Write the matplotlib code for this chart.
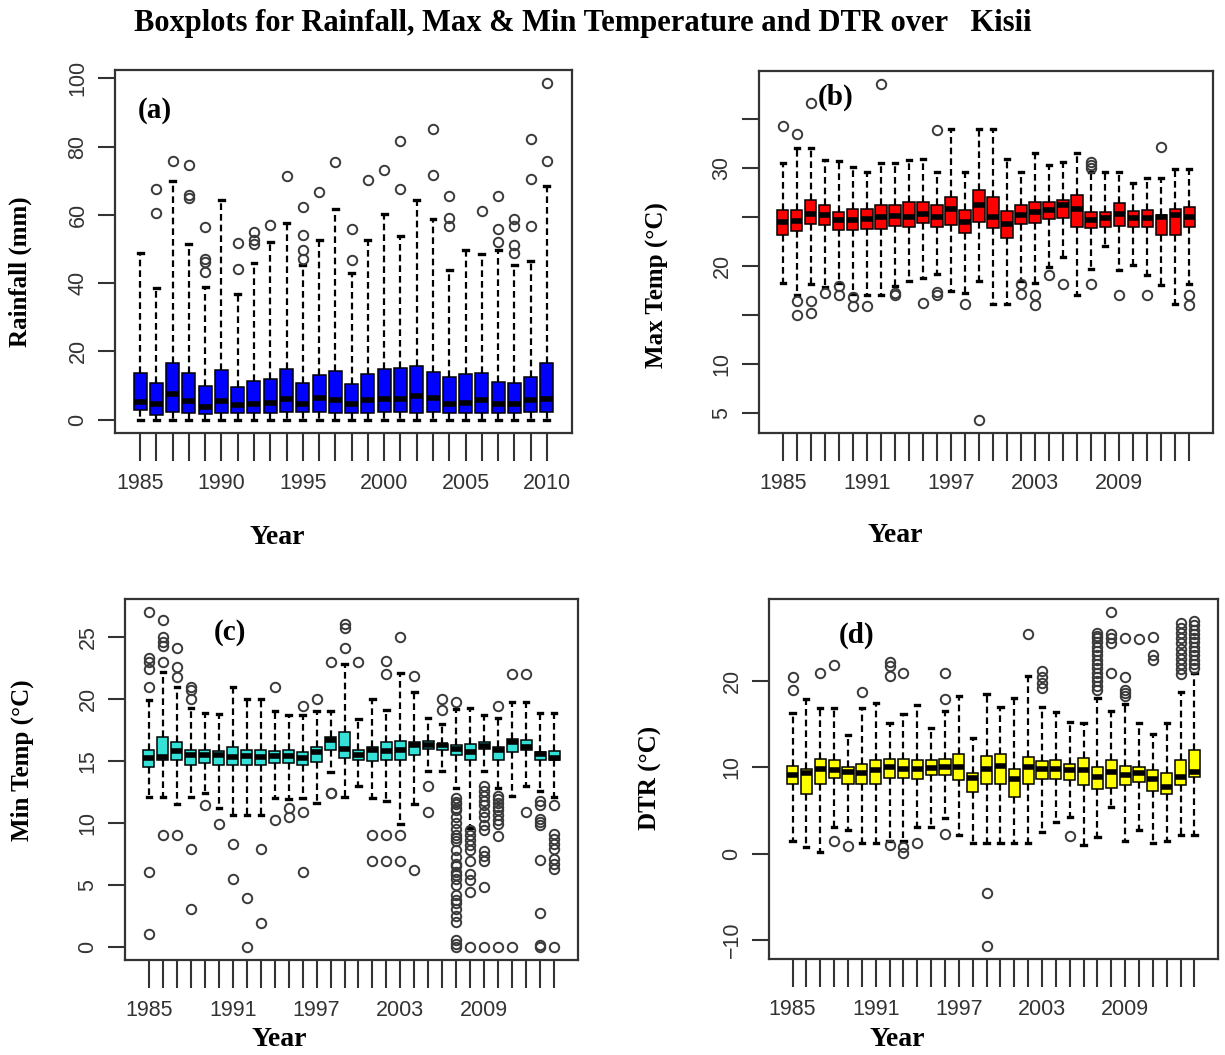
import matplotlib
matplotlib.use("Agg")
import matplotlib.pyplot as plt

# ---------------------------------------------------------------- data
years_rain = list(range(1985, 2011))
years_temp = list(range(1985, 2015))

# (a) Rainfall (mm)
rain_q1 = [2.7, 1.3, 2.2, 2.0, 1.6, 2.0, 1.8, 2.0, 1.8, 2.2, 2.2, 2.2, 2.0,
           1.8, 2.0, 2.2, 2.2, 2.0, 2.2, 1.8, 2.0, 2.0, 1.8, 1.8, 2.2, 2.2]
rain_med = [5.0, 4.5, 7.4, 5.5, 3.7, 5.5, 4.2, 4.7, 4.9, 6.1, 4.7, 6.4, 5.7,
            4.5, 5.7, 6.1, 6.1, 6.8, 6.4, 4.7, 4.9, 5.7, 4.5, 4.5, 5.7, 6.1]
rain_q3 = [13.7, 10.7, 16.7, 13.7, 9.8, 14.4, 9.6, 11.3, 12.0, 14.9, 10.7, 13.2, 14.2,
           10.3, 13.3, 14.9, 15.1, 15.7, 14.0, 12.5, 13.3, 13.7, 11.0, 10.7, 12.5, 16.7]
rain_lo = [0.0] * 26
rain_hi = [48.8, 38.6, 70.0, 51.5, 38.8, 64.2, 36.9, 45.9, 52.0, 57.6, 45.2, 52.5, 61.6,
           42.9, 52.5, 60.1, 53.7, 64.2, 58.8, 43.9, 49.8, 48.4, 49.8, 45.2, 46.6, 68.3]
rain_out = [[], [60.5, 67.6], [75.9], [74.6, 65.7, 65.0], [56.4, 47.1, 46.1, 43.2], [],
            [51.8, 44.2], [54.9, 52.5, 51.5], [56.9], [71.5], [62.4, 54.0, 49.6, 47.1],
            [66.8], [75.4], [55.9, 46.8], [70.2], [73.0], [81.6, 67.6], [], [85.2, 71.8],
            [65.4, 59.1, 56.7], [], [61.1], [65.5, 55.9, 52.0], [58.8, 56.6, 51.2, 48.8],
            [82.2, 70.5, 56.6], [98.5, 75.7]]

# (b) Maximum temperature (degC)
tmax_q1 = [23.1, 23.5, 24.3, 24.2, 23.6, 23.6, 23.7, 23.7, 24.1, 23.9, 24.4, 24.0, 24.2, 23.3, 24.5,
           23.8, 22.8, 24.3, 24.4, 24.8, 24.9, 23.9, 23.8, 24.0, 24.1, 24.0, 24.0, 23.1, 23.1, 23.9]
tmax_med = [24.5, 24.6, 25.3, 25.2, 24.7, 24.7, 24.8, 25.0, 25.1, 25.0, 25.3, 25.0, 25.8, 24.5, 26.2,
            25.0, 24.3, 25.2, 25.5, 25.7, 26.2, 25.8, 24.7, 24.9, 25.3, 24.9, 24.9, 25.0, 25.2, 25.0]
tmax_q3 = [25.7, 25.7, 26.7, 26.2, 25.5, 25.8, 25.8, 26.2, 26.2, 26.5, 26.5, 26.2, 27.0, 25.7, 27.7,
           27.0, 25.6, 26.2, 26.5, 26.5, 26.7, 27.2, 25.5, 25.5, 26.4, 25.6, 25.7, 25.2, 25.8, 26.0]
tmax_lo = [18.2, 17.0, 18.1, 17.8, 18.2, 17.1, 17.0, 17.0, 17.9, 18.4, 18.7, 19.2, 17.4, 17.2, 18.4,
           16.1, 16.1, 18.4, 18.2, 19.9, 20.9, 17.0, 19.7, 22.0, 19.6, 20.1, 19.1, 18.0, 16.1, 18.1]
tmax_hi = [30.5, 32.0, 32.0, 30.8, 30.7, 30.1, 29.6, 30.5, 30.5, 30.8, 30.9, 29.6, 34.0, 29.6, 34.0,
           34.0, 30.9, 29.6, 31.5, 30.3, 30.6, 31.5, 29.6, 29.6, 29.6, 28.4, 28.9, 28.9, 29.9, 29.9]
tmax_out = [[34.3], [33.4, 16.4, 15.0], [36.6, 16.4, 15.2], [17.2], [17.9, 17.0], [16.8, 15.9],
            [15.9], [38.5], [17.2, 17.0], [], [16.2], [33.8, 17.3, 17.0], [], [16.1], [4.3],
            [], [], [18.1, 17.1], [17.0, 16.0], [19.1], [18.1], [], [30.6, 30.3, 30.0, 18.1],
            [], [17.0], [], [17.0], [32.1], [], [17.0, 16.0]]

# (c) Minimum temperature (degC)
tmin_q1 = [14.5, 15.1, 15.1, 14.7, 14.8, 14.7, 14.7, 14.7, 14.7, 14.8, 14.8, 14.7, 14.9, 15.9, 15.2,
           15.1, 15.0, 15.1, 15.1, 15.5, 16.0, 15.9, 15.5, 15.1, 16.0, 15.1, 15.7, 15.9, 15.1, 15.1]
tmin_med = [15.2, 15.3, 15.8, 15.5, 15.5, 15.5, 15.3, 15.4, 15.3, 15.4, 15.4, 15.2, 15.7, 16.7, 16.0,
            15.5, 15.9, 15.8, 15.9, 16.3, 16.3, 16.3, 16.0, 15.7, 16.2, 15.9, 16.5, 16.1, 15.6, 15.2]
tmin_q3 = [15.9, 16.9, 16.5, 15.9, 15.9, 15.8, 16.1, 15.9, 15.9, 15.8, 15.9, 15.7, 16.1, 16.9, 17.3,
           15.9, 16.1, 16.5, 16.6, 16.5, 16.6, 16.4, 16.3, 16.4, 16.5, 16.1, 16.8, 16.7, 15.7, 15.8]
tmin_lo = [12.1, 12.1, 11.5, 12.1, 12.4, 11.2, 10.6, 10.6, 10.6, 12.0, 11.9, 12.0, 11.6, 14.1, 12.1,
           13.0, 12.0, 11.8, 9.9, 11.5, 14.2, 14.2, 12.8, 9.6, 14.2, 12.8, 12.2, 13.0, 12.6, 12.1]
tmin_hi = [19.9, 22.2, 21.0, 19.3, 18.9, 18.8, 21.0, 20.0, 20.0, 19.0, 18.7, 18.7, 19.0, 19.0, 22.8,
           18.4, 20.0, 19.1, 22.1, 20.6, 18.5, 18.0, 19.2, 19.3, 18.7, 18.5, 19.8, 19.8, 18.9, 18.9]
tmin_out = [[27.0, 23.3, 23.0, 22.4, 21.0, 6.0, 1.0],
            [26.4, 25.0, 24.6, 24.3, 23.0, 9.0],
            [24.1, 22.6, 21.8, 9.0],
            [21.0, 20.7, 20.0, 7.9, 3.0],
            [11.4], [9.9], [8.3, 5.5], [3.9, 0.0], [7.9, 1.9], [21.0, 10.2],
            [11.2, 10.5], [19.4, 10.9, 6.0], [20.0], [23.0, 12.4, 12.4],
            [26.1, 25.7, 24.1], [23.0], [9.0, 6.9], [23.1, 22.0, 9.0, 6.9],
            [25.0, 9.0, 6.9], [21.9, 6.2], [13.0, 10.9], [20.0, 19.1],
            [19.8, 12.0, 11.7, 11.5, 11.2, 11.0, 10.5, 10.0, 9.5, 9.0, 8.8, 8.5, 7.8, 7.2,
             6.7, 6.5, 6.0, 5.8, 5.5, 5.0, 4.2, 3.8, 3.5, 3.0, 2.5, 2.0, 0.5, 0.2, 0.0],
            [9.4, 9.0, 8.6, 8.2, 7.8, 6.9, 5.9, 5.4, 4.4, 0.0],
            [13.0, 12.6, 12.2, 11.8, 11.4, 10.9, 10.5, 9.8, 9.4, 7.7, 7.3, 6.9, 4.8, 0.0],
            [19.4, 12.2, 11.9, 11.6, 11.3, 11.0, 10.6, 10.2, 9.9, 8.9, 0.0],
            [22.0, 0.0], [22.0, 10.9],
            [11.8, 11.4, 10.3, 10.1, 9.8, 7.0, 2.7, 0.1, 0.0],
            [11.4, 9.1, 8.7, 8.3, 7.9, 7.1, 6.7, 6.3, 0.0]]

# (d) Diurnal temperature range (degC)
dtr_q1 = [8.1, 6.9, 8.1, 8.8, 8.1, 8.1, 8.1, 8.8, 8.8, 8.6, 9.1, 9.1, 8.5, 7.1, 8.1,
          8.1, 6.6, 8.1, 8.6, 8.6, 8.5, 8.0, 7.5, 7.6, 7.9, 8.3, 7.3, 6.9, 7.9, 8.9]
dtr_med = [9.1, 9.3, 9.8, 9.7, 9.5, 9.3, 9.7, 10.0, 9.8, 9.8, 9.9, 10.0, 10.0, 8.8, 9.8,
           10.2, 8.6, 10.0, 9.8, 9.8, 9.7, 9.7, 8.9, 9.5, 9.1, 9.3, 8.7, 7.7, 8.9, 9.5]
dtr_q3 = [10.2, 9.8, 11.0, 10.8, 10.0, 10.4, 10.8, 11.0, 11.0, 10.8, 10.8, 11.0, 11.5, 9.4, 11.3,
          11.6, 9.8, 11.2, 10.7, 10.8, 10.4, 11.1, 10.0, 10.8, 10.2, 10.0, 9.7, 9.3, 10.8, 12.0]
dtr_lo = [1.4, 0.8, 0.2, 3.1, 2.7, 1.2, 1.2, 1.5, 1.4, 3.1, 3.1, 4.1, 2.2, 1.2, 1.2,
          1.2, 1.2, 1.2, 2.5, 3.7, 4.2, 1.0, 1.9, 5.4, 1.4, 2.7, 1.2, 1.4, 2.1, 2.2]
dtr_hi = [16.3, 17.9, 16.9, 16.9, 13.8, 16.9, 17.5, 15.1, 16.2, 17.2, 14.6, 16.6, 18.3, 13.4, 18.5,
          17.0, 18.1, 20.6, 17.0, 16.4, 15.3, 15.1, 18.1, 16.6, 17.4, 15.1, 13.9, 15.1, 18.7, 20.9]
dtr_out = [[20.5, 19.0], [], [21.0], [21.9, 1.4], [0.9], [18.8], [],
           [22.2, 21.8, 20.6, 1.0], [21.0, 0.8, 0.1], [1.2], [], [21.0, 17.9, 2.3], [], [],
           [-4.6, -10.7], [], [], [25.5], [21.2, 20.5, 19.8, 19.2], [], [2.0], [],
           [19.0, 19.5, 20.0, 20.5, 21.0, 21.5, 22.0, 22.5, 23.0, 23.5, 24.0, 24.5, 25.0, 25.3, 25.6],
           [21.0, 24.4, 25.0, 25.5, 28.0],
           [25.0, 20.5, 19.0, 18.6, 18.3], [24.9], [25.1, 23.0, 22.5], [],
           [20.8, 21.4, 22.0, 22.6, 23.2, 23.8, 24.4, 25.0, 25.6, 26.2, 26.8],
           [21.5, 22.0, 22.5, 23.0, 23.5, 24.0, 24.5, 25.0, 25.5, 26.0, 26.5, 27.0]]

# ---------------------------------------------------------------- figure
W, H = 1225, 1055
fig = plt.figure(figsize=(W / 100, H / 100), dpi=100)
SERIF = ["Liberation Serif", "DejaVu Serif"]
SANS = ["Liberation Sans", "DejaVu Sans"]
GREY = "#333333"


def px_rect(x0, y0, x1, y1):
    return [x0 / W, 1 - y1 / H, (x1 - x0) / W, (y1 - y0) / H]


def fx(x):
    return x / W


def fy(y):
    return 1 - y / H


def panel(rect, years, q1, med, q3, lo, hi, out, color, yticks, ylabels, step):
    ax = fig.add_axes(px_rect(*rect))
    n = len(years)
    pos = list(range(1, n + 1))
    stats = [dict(q1=a, med=m, q3=b, whislo=l, whishi=h, fliers=f)
             for a, m, b, l, h, f in zip(q1, med, q3, lo, hi, out)]
    ax.bxp(stats, positions=pos, widths=0.8, capwidths=0.3, patch_artist=True,
           manage_ticks=False,
           boxprops=dict(facecolor=color, edgecolor="black", linewidth=1.1),
           medianprops=dict(color="black", linewidth=4.0, solid_capstyle="butt"),
           whiskerprops=dict(color="black", linewidth=1.6, linestyle=(0, (3, 1.8))),
           capprops=dict(color="black", linewidth=2.4),
           flierprops=dict(marker="o", markerfacecolor="none", markeredgecolor="#3a3a3a",
                           markersize=6.8, markeredgewidth=1.4))
    # R-style axis extents: 4% padding around data range
    ax.set_xlim(0.5 - 0.04 * n, n + 0.5 + 0.04 * n)
    allv = lo + hi + [v for f in out for v in f]
    vmin, vmax = min(allv), max(allv)
    pad = 0.04 * (vmax - vmin)
    ax.set_ylim(vmin - pad, vmax + pad)

    ax.set_xticks(pos)
    ax.set_xticklabels([str(y) if (i % step == 0) else "" for i, y in enumerate(years)])
    ax.set_yticks(yticks)
    ax.set_yticklabels(ylabels)
    for lab in ax.get_yticklabels():
        lab.set_rotation(90)
        lab.set_va("center")
        lab.set_ha("right")
    ax.tick_params(axis="both", direction="out", width=1.5, color=GREY,
                   labelsize=15.5, labelcolor=GREY)
    ax.tick_params(axis="x", length=20, pad=8.5)
    ax.tick_params(axis="y", length=12, pad=7)
    for lab in ax.get_xticklabels() + ax.get_yticklabels():
        lab.set_family(SANS)
    for sp in ax.spines.values():
        sp.set_linewidth(1.6)
        sp.set_color(GREY)
    return ax


ax_a = panel((115, 70, 572, 433), years_rain, rain_q1, rain_med, rain_q3, rain_lo, rain_hi,
             rain_out, "#0000ff", [0, 20, 40, 60, 80, 100],
             ["0", "20", "40", "60", "80", "100"], 5)
ax_b = panel((759, 71, 1213, 433), years_temp, tmax_q1, tmax_med, tmax_q3, tmax_lo, tmax_hi,
             tmax_out, "#ff0000", [5, 10, 15, 20, 25, 30, 35],
             ["5", "10", "", "20", "", "30", ""], 6)
ax_c = panel((125, 599, 578, 960), years_temp, tmin_q1, tmin_med, tmin_q3, tmin_lo, tmin_hi,
             tmin_out, "#35e0d6", [0, 5, 10, 15, 20, 25],
             ["0", "5", "10", "15", "20", "25"], 6)
ax_d = panel((769, 599, 1218, 959), years_temp, dtr_q1, dtr_med, dtr_q3, dtr_lo, dtr_hi,
             dtr_out, "#ffff00", [-10, 0, 10, 20],
             ["\u221210", "0", "10", "20"], 6)

# ---------------------------------------------------------------- text
fig.text(fx(583), fy(23), "Boxplots for Rainfall, Max & Min Temperature and DTR over   Kisii",
         ha="center", va="center", family=SERIF, weight="bold", fontsize=22)

panel_tags = [("(a)", 155, 110), ("(b)", 836, 97), ("(c)", 230, 632), ("(d)", 857, 635)]
for t, x, y in panel_tags:
    fig.text(fx(x), fy(y), t, ha="center", va="center", family=SERIF, weight="bold",
             fontsize=21)

ylabels = [("Rainfall (mm)", 20, 272), ("Max Temp (\u00b0C)", 657, 285),
           ("Min Temp (\u00b0C)", 22, 760), ("DTR (\u00b0C)", 650, 778)]
for t, x, y in ylabels:
    fig.text(fx(x), fy(y), t, ha="center", va="center", rotation=90, family=SERIF,
             weight="bold", fontsize=18)

for x, y in [(277, 537), (895, 535), (279, 1040), (897, 1040)]:
    fig.text(fx(x), fy(y), "Year", ha="center", va="center", family=SERIF, weight="bold",
             fontsize=20)

fig.savefig("out.png", dpi=100, facecolor="white")
